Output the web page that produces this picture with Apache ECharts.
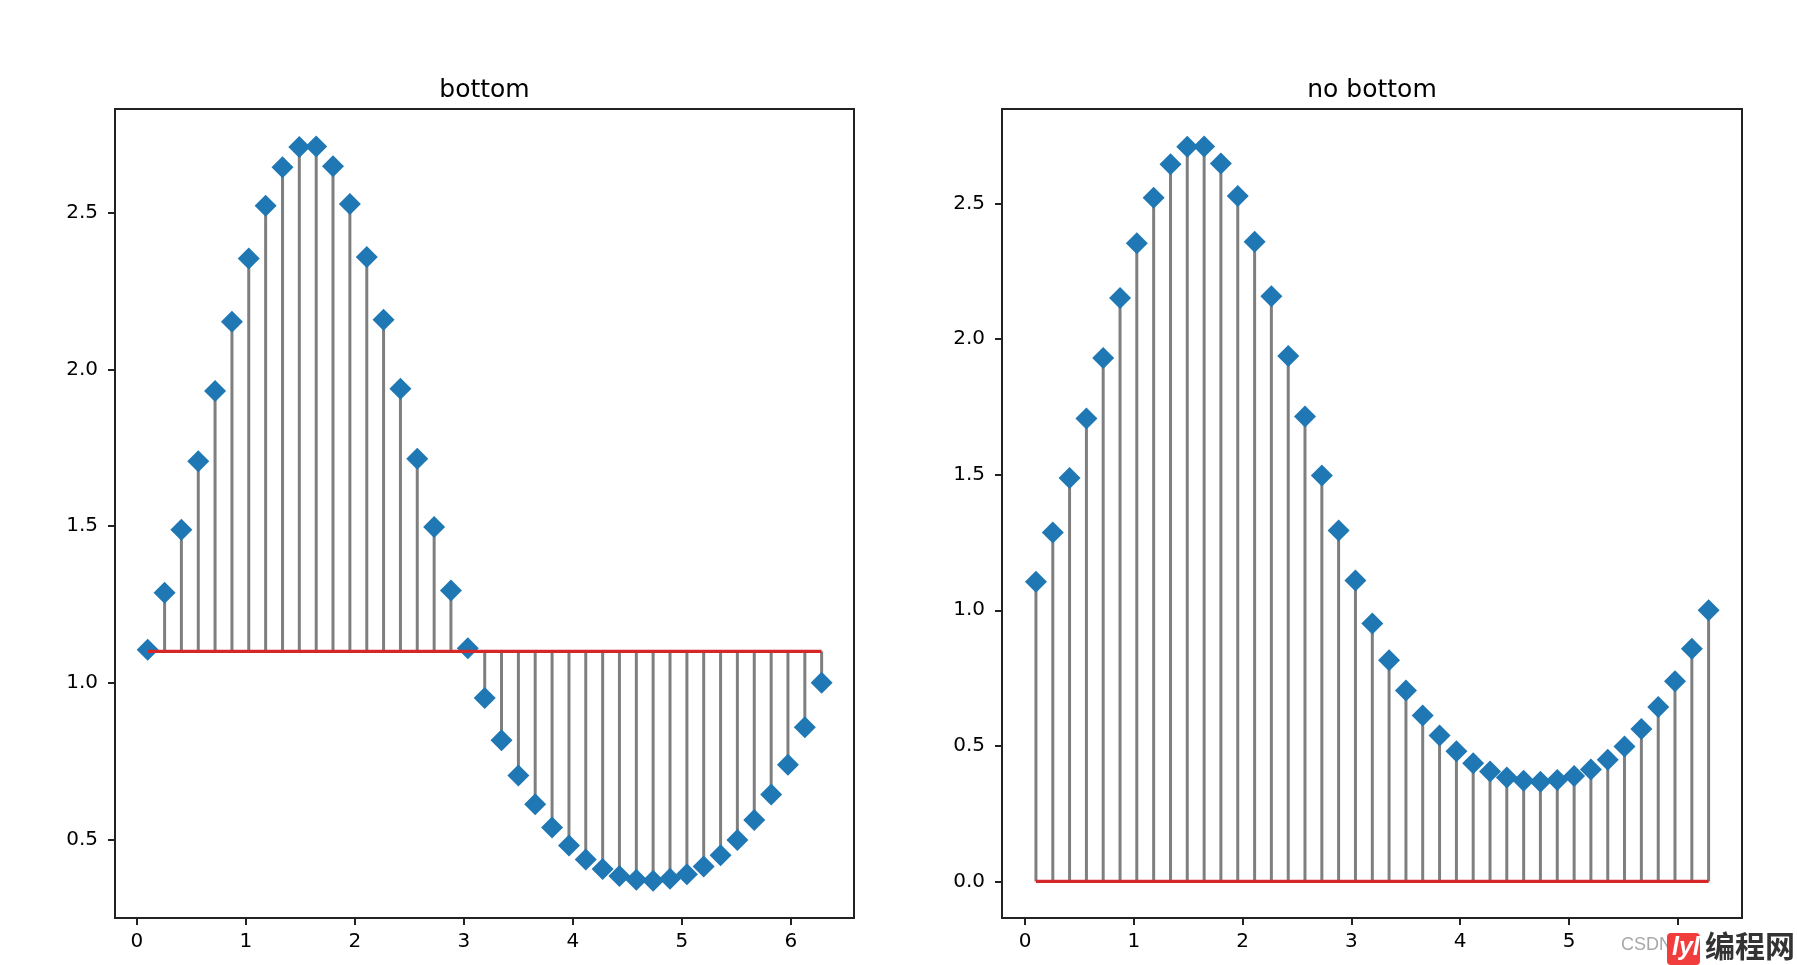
<!DOCTYPE html>
<html><head><meta charset="utf-8">
<style>html,body{margin:0;padding:0;background:#fff}#c{width:1797px;height:965px}</style>
<script src="https://cdn.jsdelivr.net/npm/echarts@6/dist/echarts.min.js"></script>
</head><body><div id="c"></div>
<script>
const xValues = [0.100,0.255,0.409,0.564,0.718,0.873,1.027,1.182,1.337,1.491,1.646,1.800,1.955,2.110,2.264,2.419,2.573,2.728,2.882,3.037,3.192,3.346,3.501,3.655,3.810,3.965,4.119,4.274,4.428,4.583,4.737,4.892,5.047,5.201,5.356,5.510,5.665,5.820,5.974,6.129,6.283];
const yValues = [1.105,1.287,1.488,1.707,1.931,2.152,2.354,2.522,2.645,2.710,2.711,2.648,2.528,2.359,2.158,1.938,1.715,1.497,1.294,1.110,0.951,0.816,0.704,0.612,0.538,0.480,0.436,0.405,0.383,0.371,0.368,0.374,0.389,0.413,0.449,0.498,0.562,0.643,0.738,0.858,1.000];
const titles = ['bottom','no bottom'];
const baselines = [1.1, 0];
const xTicks = [0,1,2,3,4,5,6];
const yTicksLeft = [0.5,1.0,1.5,2.0,2.5];
const yTicksRight = [0.0,0.5,1.0,1.5,2.0,2.5];

const font = '"DejaVu Sans"';
const points = xValues.map((x,i)=>[x,yValues[i]]);
const grids = [
  {left:115, width:739, top:109, height:809},
  {left:1002, width:740, top:109, height:809}
];
const xRanges = [[-0.2,6.58],[-0.212,6.59]];
const yRanges = [[0.249,2.831],[-0.135,2.849]];
const yTicks = [yTicksLeft,yTicksRight];

const axisCommon = {
  axisLine:{show:false,onZero:false},
  splitLine:{show:false},
  axisTick:{show:true,inside:false,length:7,lineStyle:{color:'#222',width:2}}
};
const labelBase = {color:'#000',fontFamily:font,fontSize:20};
const option = {
  animation:false,
  backgroundColor:'#fff',
  title:titles.map((t,i)=>({
    text:t,
    left:grids[i].left+grids[i].width/2,
    top:78,
    padding:0,
    textAlign:'center',
    textStyle:{color:'#000',fontFamily:font,fontSize:25,fontWeight:'normal'}
  })),
  grid:grids.map(g=>({...g,show:true,borderColor:'#222',borderWidth:2,backgroundColor:'transparent'})),
  xAxis:[0,1].map(i=>({
    ...axisCommon,type:'value',gridIndex:i,min:xRanges[i][0],max:xRanges[i][1],
    axisLabel:{...labelBase,margin:14,customValues:xTicks,formatter:v=>String(v)},
    axisTick:{...axisCommon.axisTick,customValues:xTicks}
  })),
  yAxis:[0,1].map(i=>({
    ...axisCommon,type:'value',gridIndex:i,min:yRanges[i][0],max:yRanges[i][1],
    axisLabel:{...labelBase,margin:17,customValues:yTicks[i],formatter:v=>v.toFixed(1)},
    axisTick:{...axisCommon.axisTick,customValues:yTicks[i]}
  })),
  series:[0,1].flatMap(i=>[
    {
      type:'custom',xAxisIndex:i,yAxisIndex:i,silent:true,z:2,clip:false,
      data:points,
      encode:{x:0,y:1},
      renderItem:(p,api)=>{
        const a=api.coord([api.value(0),baselines[i]]);
        const b=api.coord([api.value(0),api.value(1)]);
        return {type:'line',shape:{x1:a[0],y1:a[1],x2:b[0],y2:b[1]},style:{stroke:'#7f7f7f',lineWidth:3}};
      }
    },
    {
      type:'scatter',xAxisIndex:i,yAxisIndex:i,symbol:'diamond',symbolSize:22,z:3,
      itemStyle:{color:'#1f77b4',opacity:1},data:points
    },
    {
      type:'line',xAxisIndex:i,yAxisIndex:i,symbol:'none',z:4,
      lineStyle:{color:'#d62728',width:3.2},
      data:[[xValues[0],baselines[i]],[xValues[xValues.length-1],baselines[i]]]
    }
  ]),
  graphic:[
    {type:'text',left:1621,top:936,z:5,style:{text:'CSDN',fill:'#a8a8a8',font:'18px "Liberation Sans"'}},
    {type:'rect',left:1667,top:933,z:6,shape:{width:33,height:32,r:4},style:{fill:'#f23d3d'}},
    {type:'text',left:1672,top:936,z:7,style:{text:'lyl',fill:'#fff',font:'italic bold 25px "Liberation Sans"'}},
    {type:'text',left:1705,top:931,z:7,style:{text:'编程网',fill:'#333',font:'bold 30px "Noto Sans CJK SC"'}}
  ]
};
echarts.init(document.getElementById('c'),null,{renderer:'canvas'}).setOption(option);
</script></body></html>
